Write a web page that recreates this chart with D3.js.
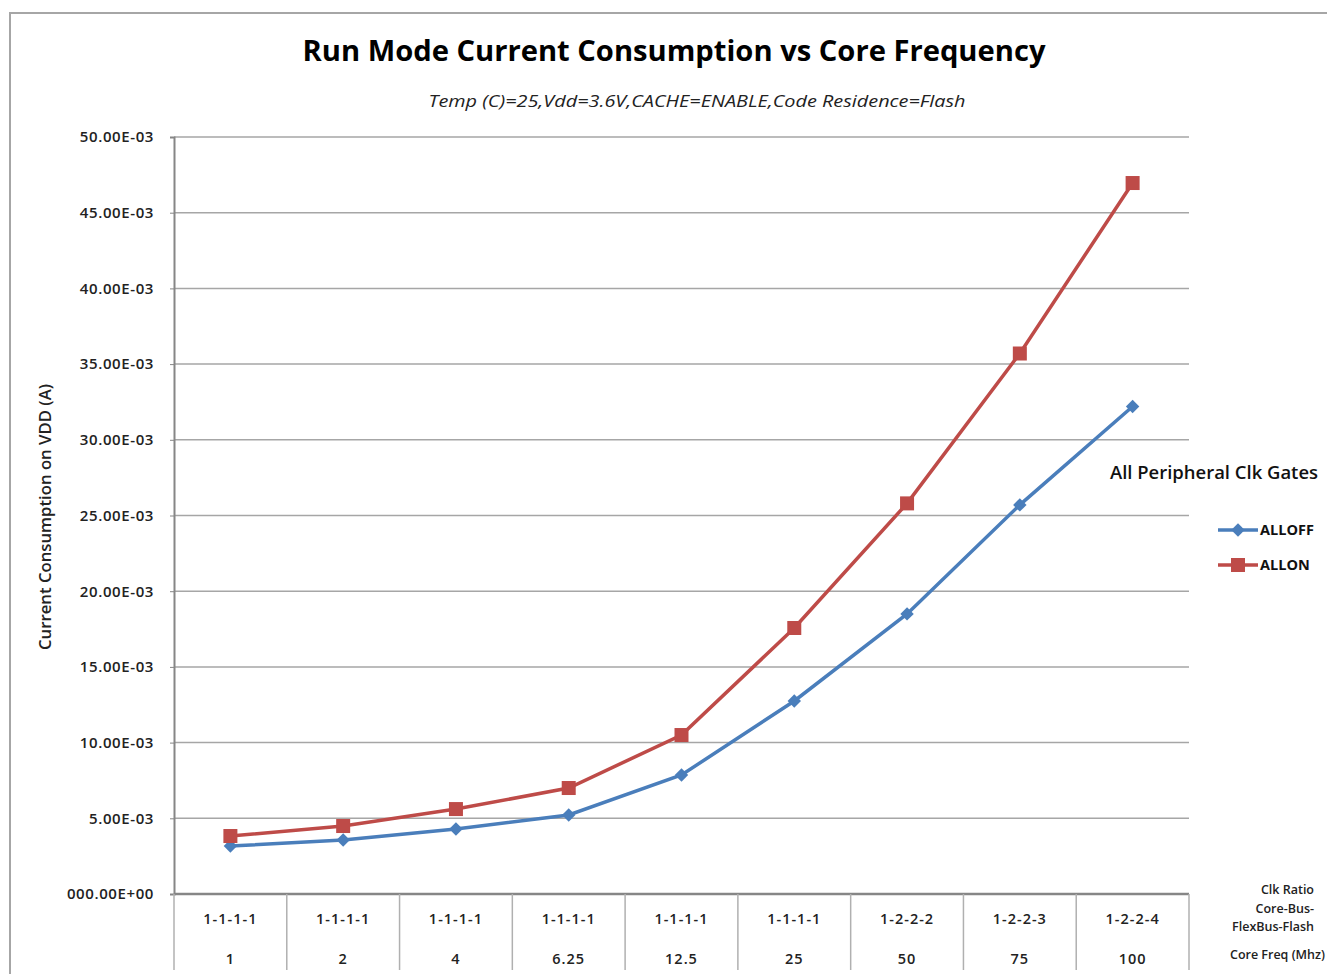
<!DOCTYPE html>
<html>
<head>
<meta charset="utf-8">
<script src="https://cdn.jsdelivr.net/npm/d3@7"></script>
<style>
  body { margin: 0; background: #fff; }
  svg { font-family: "Open Sans", "Noto Sans", sans-serif; }
</style>
</head>
<body>
<svg width="1327" height="974"></svg>
<script>
var freqs = ["1", "2", "4", "6.25", "12.5", "25", "50", "75", "100"];
var ratios = ["1-1-1-1", "1-1-1-1", "1-1-1-1", "1-1-1-1", "1-1-1-1", "1-1-1-1", "1-2-2-2", "1-2-2-3", "1-2-2-4"];
var allOff = [3.17e-3, 3.57e-3, 4.29e-3, 5.22e-3, 7.86e-3, 12.75e-3, 18.5e-3, 25.7e-3, 32.2e-3];
var allOn = [3.83e-3, 4.49e-3, 5.61e-3, 7.0e-3, 10.5e-3, 17.57e-3, 25.8e-3, 35.7e-3, 46.96e-3];
var yTicks = [0, 5e-3, 10e-3, 15e-3, 20e-3, 25e-3, 30e-3, 35e-3, 40e-3, 45e-3, 50e-3];

var svg = d3.select("svg");
var plotLeft = 174, plotRight = 1189, plotTop = 137, plotBottom = 894;

// outer frame
svg.append("path")
    .attr("d", "M10,974 L10,13 L1327,13")
    .attr("fill", "none")
    .attr("stroke", "#a6a6a6")
    .attr("stroke-width", 2);

svg.append("text")
    .attr("x", 674).attr("y", 61)
    .attr("text-anchor", "middle")
    .attr("font-size", 28).attr("font-weight", "bold")
    .attr("textLength", 743).attr("lengthAdjust", "spacingAndGlyphs")
    .text("Run Mode Current Consumption vs Core Frequency");

svg.append("text")
    .attr("x", 697).attr("y", 107)
    .attr("text-anchor", "middle")
    .attr("font-size", 17).attr("font-style", "italic")
    .attr("fill", "#222")
    .attr("textLength", 537).attr("lengthAdjust", "spacingAndGlyphs")
    .text("Temp (C)=25,Vdd=3.6V,CACHE=ENABLE,Code Residence=Flash");

var xScale = d3.scaleBand().domain(d3.range(freqs.length)).range([plotLeft, plotRight]);
var yScale = d3.scaleLinear().domain([0, 50e-3]).range([plotBottom, plotTop]);

function fmt(v) {
    if (v === 0) return "000.00E+00";
    return (v * 1000).toFixed(2) + "E-03";
}

// gridlines
svg.append("g").selectAll("line")
    .data(yTicks.slice(1))
    .enter().append("line")
    .attr("x1", plotLeft).attr("x2", plotRight)
    .attr("y1", function(d) { return yScale(d); })
    .attr("y2", function(d) { return yScale(d); })
    .attr("stroke", "#a6a6a6").attr("stroke-width", 1.5);

// y axis
var yAxis = d3.axisLeft(yScale).tickValues(yTicks).tickFormat(fmt).tickSize(4).tickPadding(16);
var gy = svg.append("g").attr("transform", "translate(" + plotLeft + ",0)").call(yAxis);
gy.select(".domain").attr("stroke", "#868686").attr("stroke-width", 2);
gy.selectAll(".tick line").attr("stroke", "#868686");
gy.selectAll(".tick text").attr("font-size", 15).attr("font-weight", 600).attr("fill", "#222")
    .attr("letter-spacing", 0.6)
    .attr("font-family", "'Open Sans', sans-serif");

// bottom axis line
svg.append("line")
    .attr("x1", plotLeft).attr("x2", plotRight)
    .attr("y1", plotBottom).attr("y2", plotBottom)
    .attr("stroke", "#868686").attr("stroke-width", 2.5);

// category table below
var sep = d3.range(freqs.length + 1).map(function(i) { return plotLeft + i * xScale.bandwidth(); });
svg.append("g").selectAll("line")
    .data(sep)
    .enter().append("line")
    .attr("x1", function(d) { return d; }).attr("x2", function(d) { return d; })
    .attr("y1", plotBottom).attr("y2", 970)
    .attr("stroke", "#b0b0b0").attr("stroke-width", 1.5);

svg.append("g").selectAll("text")
    .data(ratios)
    .enter().append("text")
    .attr("x", function(d, i) { return xScale(i) + xScale.bandwidth() / 2; })
    .attr("y", 924)
    .attr("text-anchor", "middle")
    .attr("font-size", 14.5).attr("font-weight", 600).attr("fill", "#222")
    .attr("letter-spacing", 1)
    .text(function(d) { return d; });

svg.append("g").selectAll("text")
    .data(freqs)
    .enter().append("text")
    .attr("x", function(d, i) { return xScale(i) + xScale.bandwidth() / 2; })
    .attr("y", 964)
    .attr("text-anchor", "middle")
    .attr("font-size", 14.5).attr("font-weight", 600).attr("fill", "#222")
    .attr("letter-spacing", 1)
    .text(function(d) { return d; });

var sideLabels = [["Clk Ratio", 894], ["Core-Bus-", 913], ["FlexBus-Flash", 931]];
sideLabels.forEach(function(s) {
    svg.append("text").attr("x", 1314).attr("y", s[1])
        .attr("text-anchor", "end").attr("font-size", 12.5).attr("font-weight", 600).attr("fill", "#222")
        .text(s[0]);
});
svg.append("text").attr("x", 1325).attr("y", 959)
    .attr("text-anchor", "end").attr("font-size", 12.5).attr("font-weight", 600).attr("fill", "#222")
    .text("Core Freq (Mhz)");

// y axis title
svg.append("text")
    .attr("transform", "translate(51,517) rotate(-90)")
    .attr("text-anchor", "middle")
    .attr("font-size", 15.5).attr("font-weight", 600).attr("fill", "#222")
    .attr("textLength", 266).attr("lengthAdjust", "spacingAndGlyphs")
    .text("Current Consumption  on VDD (A)");

// series
var blue = "#4a7ebb", red = "#be4b48";
var line = d3.line()
    .x(function(d, i) { return xScale(i) + xScale.bandwidth() / 2; })
    .y(function(d) { return yScale(d); });

svg.append("path").datum(allOff)
    .attr("d", line).attr("fill", "none")
    .attr("stroke", blue).attr("stroke-width", 3.5);
svg.append("path").datum(allOn)
    .attr("d", line).attr("fill", "none")
    .attr("stroke", red).attr("stroke-width", 3.5);

// diamond = square rotated 45 degrees
var diamond = d3.symbol().type(d3.symbolSquare).size(90);
svg.append("g").selectAll("path")
    .data(allOff)
    .enter().append("path")
    .attr("d", diamond)
    .attr("transform", function(d, i) {
        return "translate(" + (xScale(i) + xScale.bandwidth() / 2) + "," + yScale(d) + ") rotate(45)";
    })
    .attr("fill", blue);

svg.append("g").selectAll("rect")
    .data(allOn)
    .enter().append("rect")
    .attr("x", function(d, i) { return xScale(i) + xScale.bandwidth() / 2 - 7; })
    .attr("y", function(d) { return yScale(d) - 7; })
    .attr("width", 14).attr("height", 14)
    .attr("fill", red);

// legend
svg.append("text")
    .attr("x", 1318).attr("y", 479)
    .attr("text-anchor", "end")
    .attr("font-size", 17.5).attr("font-weight", 600).attr("fill", "#111")
    .attr("textLength", 208).attr("lengthAdjust", "spacingAndGlyphs")
    .text("All Peripheral Clk Gates");

var legend = [["ALLOFF", blue, "diamond", 530], ["ALLON", red, "square", 565]];
legend.forEach(function(l) {
    svg.append("line")
        .attr("x1", 1218).attr("x2", 1258)
        .attr("y1", l[3]).attr("y2", l[3])
        .attr("stroke", l[1]).attr("stroke-width", 3.5);
    if (l[2] === "diamond") {
        svg.append("path").attr("d", diamond)
            .attr("transform", "translate(1238," + l[3] + ") rotate(45)")
            .attr("fill", l[1]);
    } else {
        svg.append("rect").attr("x", 1231).attr("y", l[3] - 7)
            .attr("width", 14).attr("height", 14).attr("fill", l[1]);
    }
    svg.append("text")
        .attr("x", 1260).attr("y", l[3] + 5)
        .attr("font-size", 14.5).attr("font-weight", "bold").attr("fill", "#111")
        .text(l[0]);
});
</script>
</body>
</html>
